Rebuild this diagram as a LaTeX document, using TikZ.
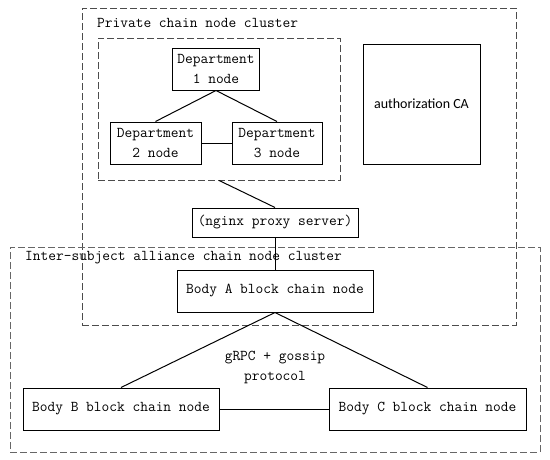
\documentclass[tikz,border=0pt]{standalone}
\usepackage{fontspec}
\newfontfamily\cafont{Carlito}
\usetikzlibrary{positioning}

\begin{document}
\begin{tikzpicture}[
    x=1pt, y=-1pt,
    every node/.style={font=\ttfamily\fontsize{15}{20}\selectfont, inner sep=0pt},
    box/.style={draw=black, line width=1pt, align=center, minimum height=42pt},
    cluster/.style={draw=black!70, line width=0.9pt, dash pattern=on 7pt off 3pt},
    link/.style={draw, line width=1pt}
  ]
  \useasboundingbox (0,0) rectangle (550,459);

  % clusters
  \node [cluster, minimum width=434pt, minimum height=317pt] (private) at (299,166.5) {};
  \node [anchor=west] (privlabel) at (97,23) {Private chain node cluster};
  \node [cluster, minimum width=242pt, minimum height=142pt] (depts) at (219,109) {};
  \node [cluster, draw=black!60, minimum width=530pt, minimum height=205pt] (inter) at (275,349.5) {};
  \node [anchor=west] (interlabel) at (25,258) {Inter-subject alliance chain node cluster};

  % private chain
  \node [box, minimum width=87pt] (dep1) at (216,69) {Department\\1 node};
  \node [box, minimum width=91pt] (dep2) at (155.5,143) {Department\\2 node};
  \node [box, minimum width=90pt] (dep3) at (277,143) {Department\\3 node};
  \node [box, minimum width=117pt, minimum height=120pt, font=\cafont\fontsize{14}{17}\selectfont] (ca) at (421.5,104) {authorization CA};
  \node [box, minimum width=166pt, minimum height=29pt] (nginx) at (275,222.5) {(nginx proxy server)};

  % alliance chain
  \node [box, minimum width=196pt] (bodyA) at (275,291) {Body A block chain node};
  \node [box, minimum width=196pt] (bodyB) at (121,409) {Body B block chain node};
  \node [box, minimum width=197pt] (bodyC) at (427.5,409) {Body C block chain node};
  \node [align=center] (proto) at (275,367) {gRPC + gossip\\protocol};

  \draw [link] (dep1.south) -- (dep2.north);
  \draw [link] (dep1.south) -- (dep3.north);
  \draw [link] (dep2) -- (dep3);
  \draw [link] (depts.south) -- (nginx.north);
  \draw [link] (nginx.south) -- (bodyA.north);
  \draw [link] (bodyA.south) -- (bodyB.north);
  \draw [link] (bodyA.south) -- (bodyC.north);
  \draw [link] (bodyB) -- (bodyC);
\end{tikzpicture}
\end{document}
